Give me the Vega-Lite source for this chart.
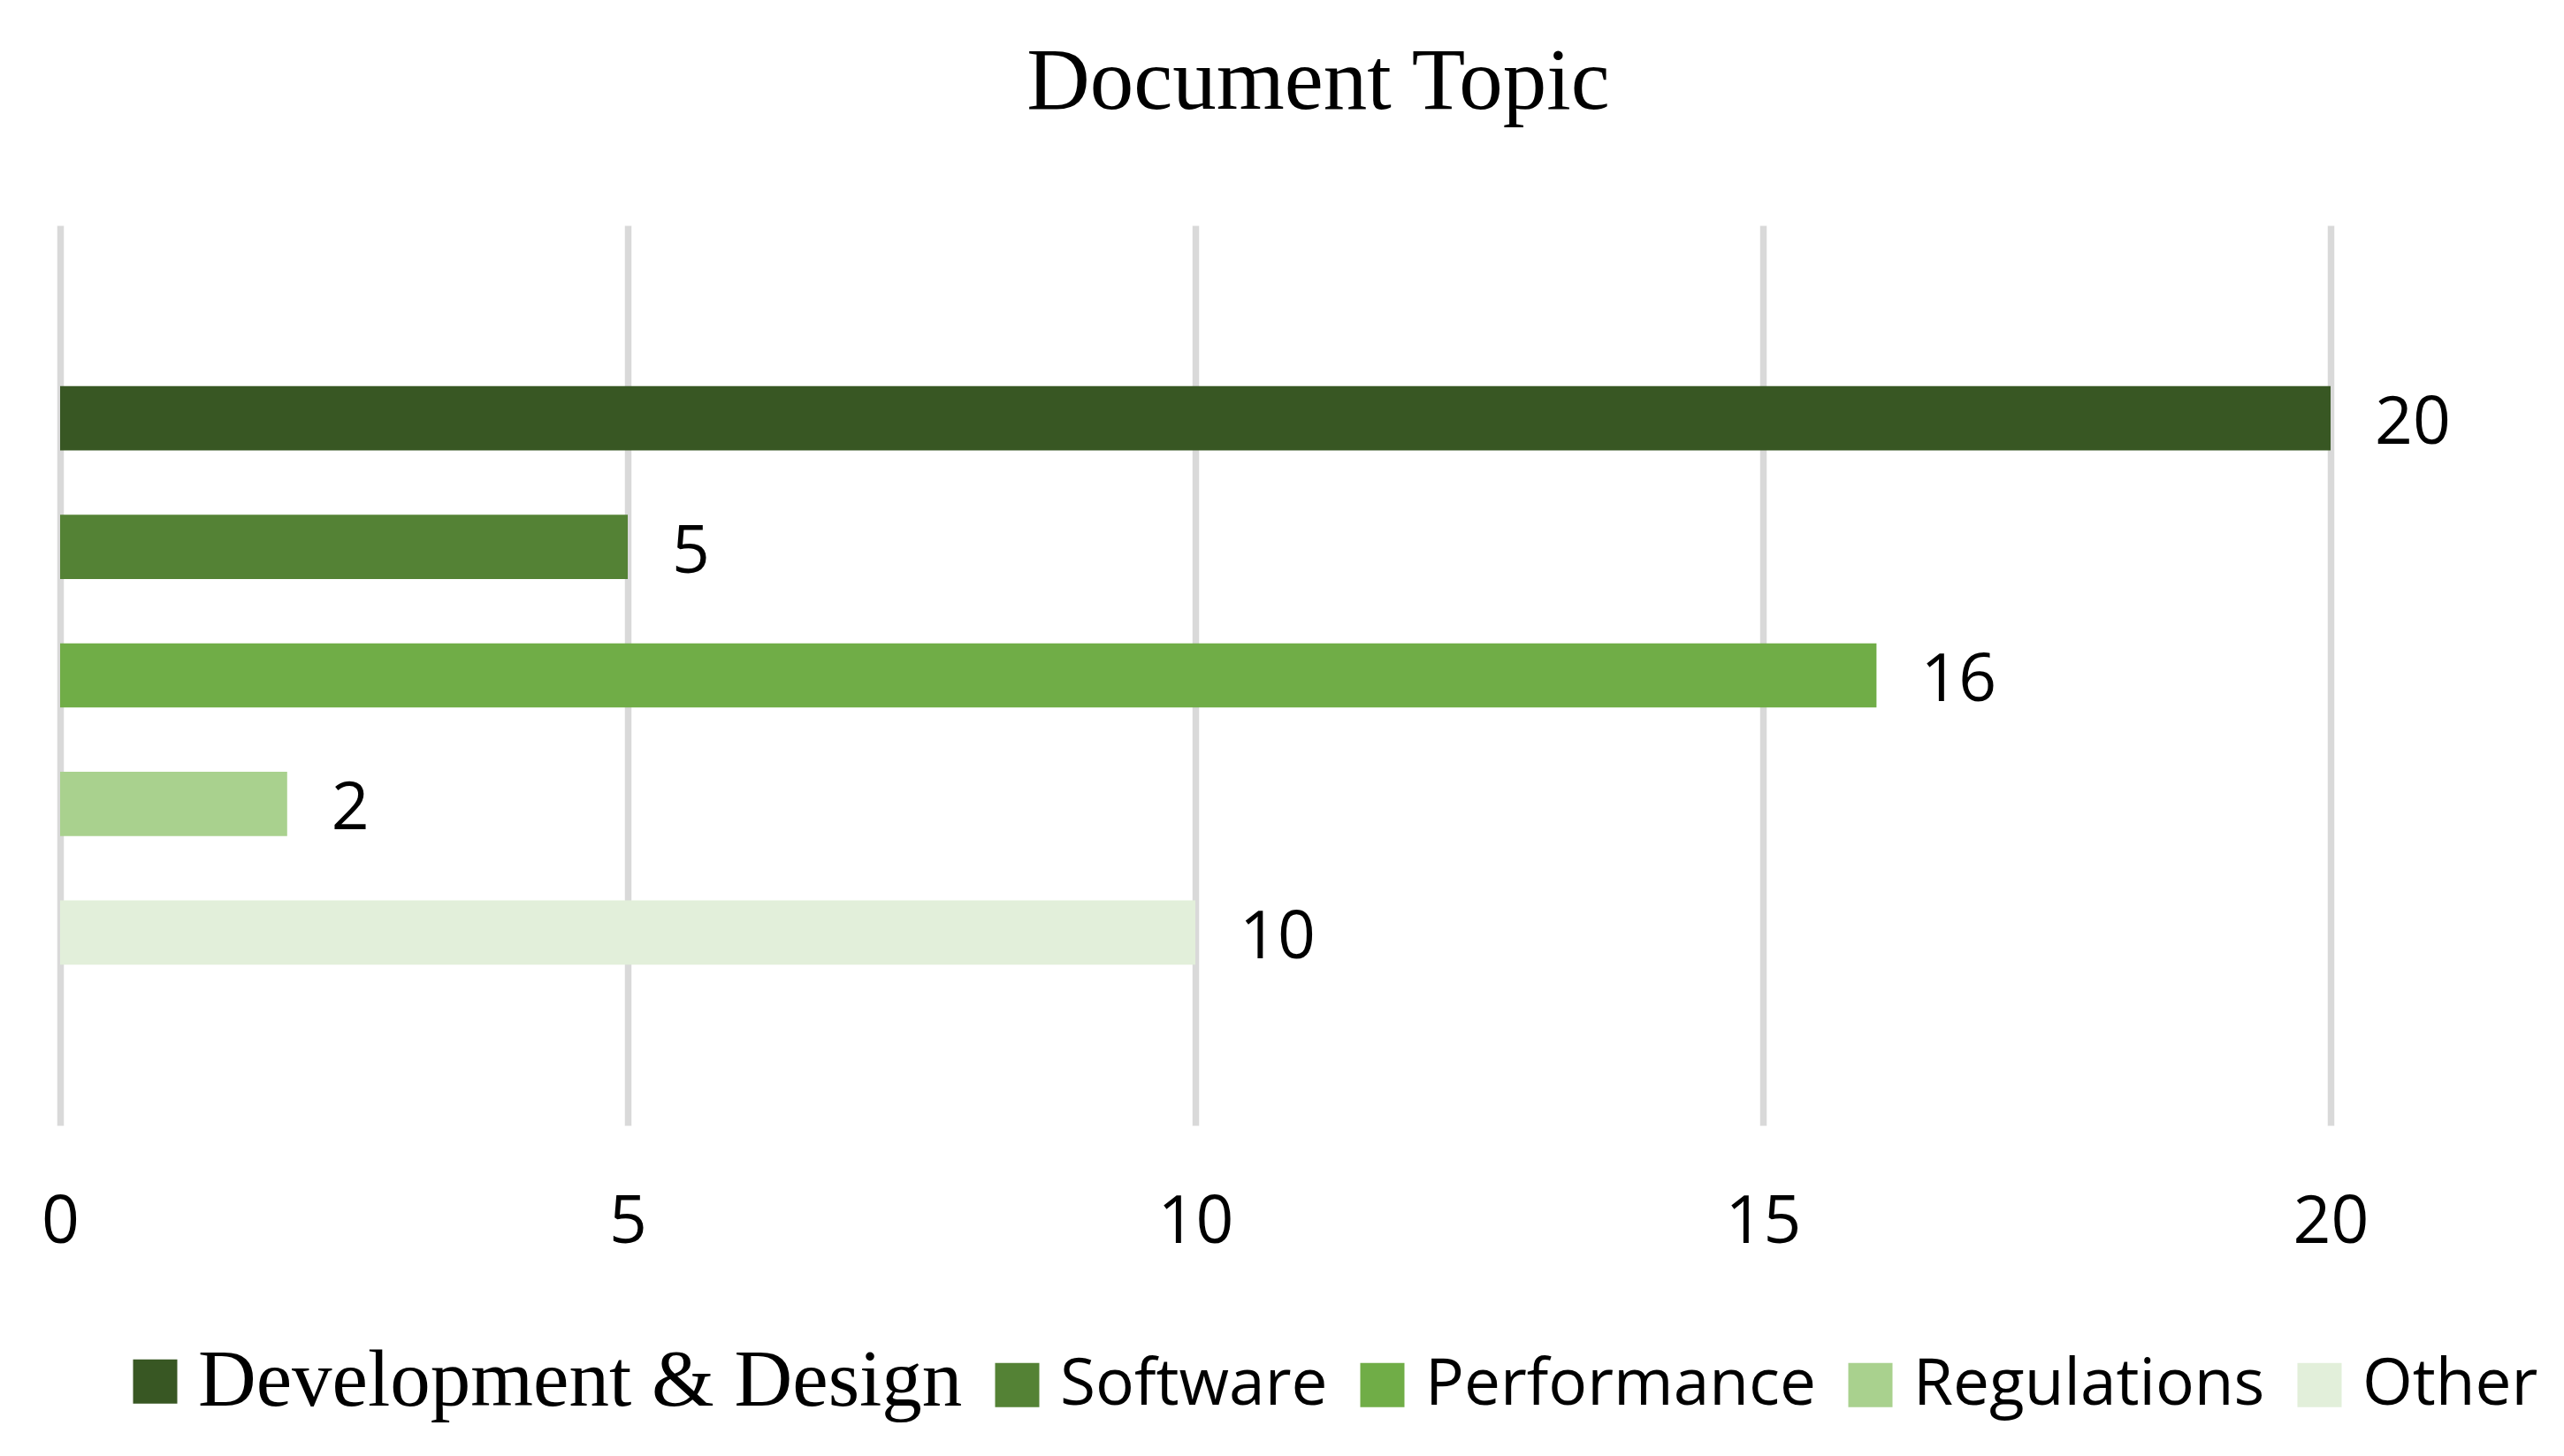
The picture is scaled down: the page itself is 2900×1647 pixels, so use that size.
{
  "$schema": "https://vega.github.io/schema/vega-lite/v6.json",
  "width": 2568,
  "height": 1018,
  "autosize": {"type": "none"},
  "padding": {"left": 68, "top": 255, "right": 264, "bottom": 374},
  "background": "white",
  "config": {"view": {"stroke": null}},
  "title": {
    "text": "Document Topic",
    "font": "Liberation Serif",
    "fontSize": 99,
    "fontWeight": "normal",
    "color": "#000000",
    "anchor": "middle",
    "dx": 139,
    "baseline": "alphabetic",
    "offset": 33
  },
  "data": {
    "values": [
      {"topic": "Development & Design", "count": 20},
      {"topic": "Software", "count": 5},
      {"topic": "Performance", "count": 16},
      {"topic": "Regulations", "count": 2},
      {"topic": "Other", "count": 10}
    ]
  },
  "encoding": {
    "y": {
      "field": "topic",
      "type": "nominal",
      "sort": ["Development & Design", "Software", "Performance", "Regulations", "Other"],
      "scale": {"paddingInner": 0, "paddingOuter": 1},
      "axis": null
    },
    "x": {
      "field": "count",
      "type": "quantitative",
      "scale": {"domain": [0, 20], "nice": false},
      "axis": {
        "values": [0, 5, 10, 15, 20],
        "domain": false,
        "ticks": false,
        "tickSize": 0,
        "grid": true,
        "gridColor": "#d9d9d9",
        "gridWidth": 7.5,
        "labelFont": "Open Sans",
        "labelFontSize": 75,
        "labelColor": "#000000",
        "labelBaseline": "alphabetic",
        "labelPadding": 132,
        "labelOverlap": false,
        "labelFlush": false,
        "title": null
      }
    }
  },
  "layer": [
    {
      "mark": {"type": "bar", "height": {"band": 0.5}},
      "encoding": {
        "color": {
          "field": "topic",
          "type": "nominal",
          "sort": ["Development & Design", "Software", "Performance", "Regulations", "Other"],
          "scale": {
            "domain": ["Development & Design", "Software", "Performance", "Regulations", "Other"],
            "range": ["#385723", "#548235", "#70AD47", "#A9D18E", "#E2EFDA"]
          },
          "legend": {
            "orient": "none",
            "legendX": 71,
            "legendY": 1271,
            "direction": "horizontal",
            "columns": 5,
            "title": null,
            "symbolType": "square",
            "symbolSize": 2500,
            "symbolStrokeWidth": 0,
            "symbolOpacity": 1,
            "labelFont": {"expr": "datum.label == 'Development & Design' ? 'Liberation Serif' : 'Open Sans'"},
            "labelFontSize": {"expr": "datum.label == 'Development & Design' ? 91 : 73"},
            "labelColor": "#000000",
            "labelOffset": 12,
            "columnPadding": 25,
            "labelLimit": 3000,
            "padding": 0
          }
        }
      }
    },
    {
      "mark": {
        "type": "text",
        "align": "left",
        "baseline": "alphabetic",
        "dx": 50,
        "dy": 29,
        "font": "Open Sans",
        "fontSize": 75,
        "color": "#000000"
      },
      "encoding": {
        "text": {"field": "count", "type": "quantitative"}
      }
    }
  ]
}
